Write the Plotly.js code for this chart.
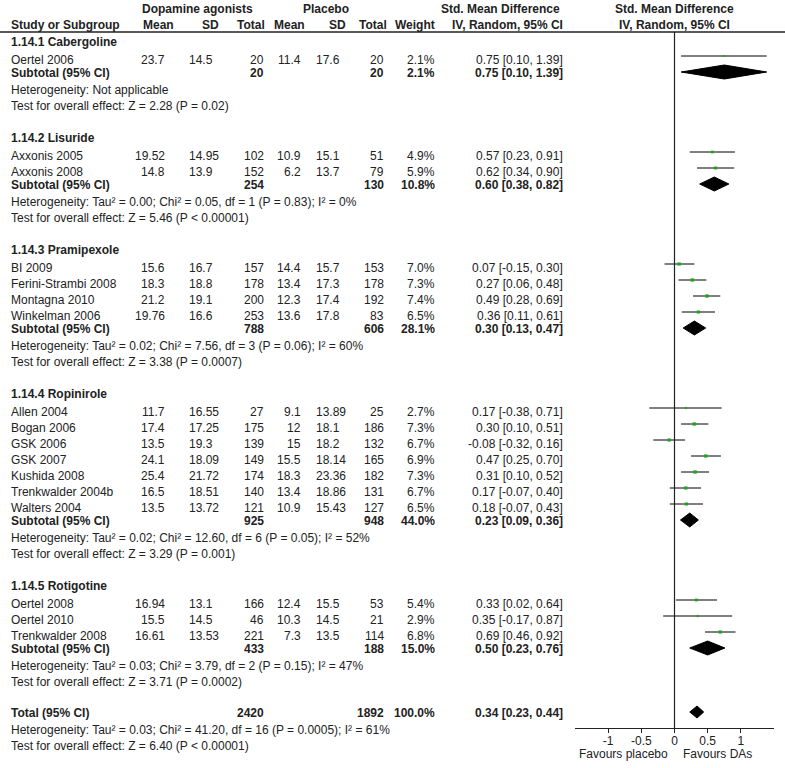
<!DOCTYPE html>
<html>
<head>
<meta charset="utf-8">
<script src="https://cdn.plot.ly/plotly-3.0.1.min.js"></script>
<style>html,body{margin:0;padding:0;background:#fff;}#chart{width:785px;height:768px;}</style>
</head>
<body>
<div id="chart"></div>
<script>
// ---------------- DATA ----------------
const GROUP_NAMES = ["1.14.1 Cabergoline", "1.14.2 Lisuride", "1.14.3 Pramipexole", "1.14.4 Ropinirole", "1.14.5 Rotigotine"];

const STUDY_NAMES = ["Oertel 2006",
  "Axxonis 2005", "Axxonis 2008",
  "BI 2009", "Ferini-Strambi 2008", "Montagna 2010", "Winkelman 2006",
  "Allen 2004", "Bogan 2006", "GSK 2006", "GSK 2007", "Kushida 2008", "Trenkwalder 2004b", "Walters 2004",
  "Oertel 2008", "Oertel 2010", "Trenkwalder 2008"];
const STUDY_GROUP = [0, 1, 1, 2, 2, 2, 2, 3, 3, 3, 3, 3, 3, 3, 4, 4, 4];

const DA_MEAN = [23.7, 19.52, 14.8, 15.6, 18.3, 21.2, 19.76, 11.7, 17.4, 13.5, 24.1, 25.4, 16.5, 13.5, 16.94, 15.5, 16.61];
const DA_SD   = [14.5, 14.95, 13.9, 16.7, 18.8, 19.1, 16.6, 16.55, 17.25, 19.3, 18.09, 21.72, 18.51, 13.72, 13.1, 14.5, 13.53];
const DA_N    = [20, 102, 152, 157, 178, 200, 253, 27, 175, 139, 149, 174, 140, 121, 166, 46, 221];
const PL_MEAN = [11.4, 10.9, 6.2, 14.4, 13.4, 12.3, 13.6, 9.1, 12, 15, 15.5, 18.3, 13.4, 10.9, 12.4, 10.3, 7.3];
const PL_SD   = [17.6, 15.1, 13.7, 15.7, 17.3, 17.4, 17.8, 13.89, 18.1, 18.2, 18.14, 23.36, 18.86, 15.43, 15.5, 14.5, 13.5];
const PL_N    = [20, 51, 79, 153, 178, 192, 83, 25, 186, 132, 165, 182, 131, 127, 53, 21, 114];
const WEIGHT  = [2.1, 4.9, 5.9, 7.0, 7.3, 7.4, 6.5, 2.7, 7.3, 6.7, 6.9, 7.3, 6.7, 6.5, 5.4, 2.9, 6.8];
const SMD     = [0.75, 0.57, 0.62, 0.07, 0.27, 0.49, 0.36, 0.17, 0.30, -0.08, 0.47, 0.31, 0.17, 0.18, 0.33, 0.35, 0.69];
const CI_LO   = [0.10, 0.23, 0.34, -0.15, 0.06, 0.28, 0.11, -0.38, 0.10, -0.32, 0.25, 0.10, -0.07, -0.07, 0.02, -0.17, 0.46];
const CI_HI   = [1.39, 0.91, 0.90, 0.30, 0.48, 0.69, 0.61, 0.71, 0.51, 0.16, 0.70, 0.52, 0.40, 0.43, 0.64, 0.87, 0.92];

const SUB_DA_N   = [20, 254, 788, 925, 433];
const SUB_PL_N   = [20, 130, 606, 948, 188];
const SUB_WEIGHT = [2.1, 10.8, 28.1, 44.0, 15.0];
const SUB_SMD    = [0.75, 0.60, 0.30, 0.23, 0.50];
const SUB_LO     = [0.10, 0.38, 0.13, 0.09, 0.23];
const SUB_HI     = [1.39, 0.82, 0.47, 0.36, 0.76];
const SUB_HET = [
  "Heterogeneity: Not applicable",
  "Heterogeneity: Tau\u00b2 = 0.00; Chi\u00b2 = 0.05, df = 1 (P = 0.83); I\u00b2 = 0%",
  "Heterogeneity: Tau\u00b2 = 0.02; Chi\u00b2 = 7.56, df = 3 (P = 0.06); I\u00b2 = 60%",
  "Heterogeneity: Tau\u00b2 = 0.02; Chi\u00b2 = 12.60, df = 6 (P = 0.05); I\u00b2 = 52%",
  "Heterogeneity: Tau\u00b2 = 0.03; Chi\u00b2 = 3.79, df = 2 (P = 0.15); I\u00b2 = 47%"];
const SUB_TEST = [
  "Test for overall effect: Z = 2.28 (P = 0.02)",
  "Test for overall effect: Z = 5.46 (P < 0.00001)",
  "Test for overall effect: Z = 3.38 (P = 0.0007)",
  "Test for overall effect: Z = 3.29 (P = 0.001)",
  "Test for overall effect: Z = 3.71 (P = 0.0002)"];

const TOTAL_DA_N = 2420, TOTAL_PL_N = 1892, TOTAL_WEIGHT = 100.0;
const TOTAL_SMD = 0.34, TOTAL_LO = 0.23, TOTAL_HI = 0.44;
const TOTAL_HET = "Heterogeneity: Tau\u00b2 = 0.03; Chi\u00b2 = 41.20, df = 16 (P = 0.0005); I\u00b2 = 61%";
const TOTAL_TEST = "Test for overall effect: Z = 6.40 (P < 0.00001)";

const TICK_VALS = [-1, -0.5, 0, 0.5, 1];
const TICK_TEXT = ["-1", "-0.5", "0", "0.5", "1"];
const FAVOURS_LEFT = "Favours placebo", FAVOURS_RIGHT = "Favours DAs";

// ---------------- LAYOUT HELPERS ----------------
const W = 785, H = 768;
const FONT = "Liberation Sans, Arial, Helvetica, sans-serif";
const TXT = "#222222";
const BOLD_SIZE = 12, NORMAL_SIZE = 12;
const px = v => v / W;
const ROW0 = 8, ROWH = 16;           // pixel y of row 0, row height
const rowOfPx = p => (p - ROW0) / ROWH;

const annotations = [];
function ann(text, xPx, row, anchor, bold, yshift) {
  annotations.push({
    text: text, x: px(xPx), xref: "paper", y: row, yref: "y",
    xanchor: anchor, yanchor: "middle", showarrow: false, borderpad: 0,
    yshift: yshift === undefined ? -2 : yshift,
    font: {family: FONT, size: bold ? BOLD_SIZE : NORMAL_SIZE, color: TXT}
  });
}
const fmt2 = v => v.toFixed(2);
const ciText = (e, l, h) => fmt2(e) + " [" + fmt2(l) + ", " + fmt2(h) + "]";
const decs = v => (String(v).split(".")[1] || "").length;

// columns (pixel x)
const C = {name: 10, daMean: 166, daSD: 220, daN: 265, plMean: 302, plSD: 347, plN: 385, weight: 436, ci: 564};

// headers
ann("<b>Dopamine agonists</b>", 197, 0, "center", true, -1);
ann("<b>Placebo</b>", 326, 0, "center", true, -1);
ann("<b>Std. Mean Difference</b>", 500, 0, "center", true, -1);
ann("<b>Study or Subgroup</b>", C.name, 1, "left", true, -1);
ann("<b>Mean</b>", 175, 1, "right", true, -1);
ann("<b>SD</b>", 220, 1, "right", true, -1);
ann("<b>Total</b>", 266, 1, "right", true, -1);
ann("<b>Mean</b>", 306, 1, "right", true, -1);
ann("<b>SD</b>", 347, 1, "right", true, -1);
ann("<b>Total</b>", 388, 1, "right", true, -1);
ann("<b>Weight</b>", 436, 1, "right", true, -1);
ann("<b>IV, Random, 95% CI</b>", 564, 1, "right", true, -1);
annotations.push({text: "<b>Std. Mean Difference</b>", x: 0, xref: "x", y: 0, yref: "y", xanchor: "center", yanchor: "middle",
  showarrow: false, borderpad: 0, yshift: -1, font: {family: FONT, size: BOLD_SIZE, color: TXT}});
annotations.push({text: "<b>IV, Random, 95% CI</b>", x: 0, xref: "x", y: 1, yref: "y", xanchor: "center", yanchor: "middle",
  showarrow: false, borderpad: 0, yshift: -1, font: {family: FONT, size: BOLD_SIZE, color: TXT}});

// rows
const studyRow = [];
const subRow = [];
let row = 2;
GROUP_NAMES.forEach((g, gi) => {
  ann("<b>" + g + "</b>", C.name, row, "left", true);
  row++;
  STUDY_NAMES.forEach((s, si) => {
    if (STUDY_GROUP[si] !== gi) return;
    studyRow[si] = row;
    const ys = -3.5;
    ann(s, C.name, row, "left", false, ys);
    ann(String(DA_MEAN[si]), C.daMean, row, "right", false, ys);
    ann(String(DA_SD[si]), C.daSD - (2 - decs(DA_SD[si])) * 6.3, row, "right", false, ys);
    ann(String(DA_N[si]), C.daN, row, "right", false, ys);
    ann(String(PL_MEAN[si]), C.plMean, row, "right", false, ys);
    ann(String(PL_SD[si]), C.plSD - (2 - decs(PL_SD[si])) * 6.3, row, "right", false, ys);
    ann(String(PL_N[si]), C.plN, row, "right", false, ys);
    ann(WEIGHT[si].toFixed(1) + "%", C.weight, row, "right", false, ys);
    ann(ciText(SMD[si], CI_LO[si], CI_HI[si]), C.ci, row, "right", false, ys);
    row++;
  });
  subRow[gi] = row;
  ann("<b>Subtotal (95% CI)</b>", C.name, row, "left", true, -1);
  ann("<b>" + SUB_DA_N[gi] + "</b>", C.daN, row, "right", true, -1);
  ann("<b>" + SUB_PL_N[gi] + "</b>", C.plN, row, "right", true, -1);
  ann("<b>" + SUB_WEIGHT[gi].toFixed(1) + "%</b>", C.weight, row, "right", true, -1);
  ann("<b>" + ciText(SUB_SMD[gi], SUB_LO[gi], SUB_HI[gi]) + "</b>", C.ci, row, "right", true, -1);
  row++;
  ann(SUB_HET[gi], C.name, row, "left", false); row++;
  ann(SUB_TEST[gi], C.name, row, "left", false); row++;
  row++; // blank
});
const totalRow = row;
ann("<b>Total (95% CI)</b>", C.name, row, "left", true, -1);
ann("<b>" + TOTAL_DA_N + "</b>", C.daN, row, "right", true, -1);
ann("<b>" + TOTAL_PL_N + "</b>", C.plN, row, "right", true, -1);
ann("<b>" + TOTAL_WEIGHT.toFixed(1) + "%</b>", C.weight, row, "right", true, -1);
ann("<b>" + ciText(TOTAL_SMD, TOTAL_LO, TOTAL_HI) + "</b>", C.ci, row, "right", true, -1);
row++;
const axisRow = row;
ann(TOTAL_HET, C.name, row, "left", false); row++;
ann(TOTAL_TEST, C.name, row, "left", false); row++;

// favours labels under the axis
annotations.push({text: FAVOURS_LEFT, x: 0, xref: "x", xshift: -6, y: axisRow + 1.6, yref: "y", xanchor: "right", yanchor: "middle",
  showarrow: false, borderpad: 0, font: {family: FONT, size: 12, color: TXT}});
annotations.push({text: FAVOURS_RIGHT, x: 0, xref: "x", xshift: 7, y: axisRow + 1.6, yref: "y", xanchor: "left", yanchor: "middle",
  showarrow: false, borderpad: 0, font: {family: FONT, size: 12, color: TXT}});

// ---------------- TRACES ----------------
const traces = [];
// study CI lines + weighted squares
traces.push({
  type: "scatter", mode: "markers", xaxis: "x", yaxis: "y",
  x: SMD, y: studyRow,
  marker: {symbol: "square", color: "#00a800", size: WEIGHT.map(w => 1.4 + 0.3 * w), line: {width: 0}},
  error_x: {type: "data", symmetric: false,
    array: CI_HI.map((h, i) => h - SMD[i]), arrayminus: CI_LO.map((l, i) => SMD[i] - l),
    width: 0, thickness: 1, color: "#000"},
  hoverinfo: "skip", cliponaxis: false
});
// diamonds
function diamond(e, l, h, r, half) {
  traces.push({type: "scatter", mode: "lines", xaxis: "x", yaxis: "y",
    x: [l, e, h, e, l], y: [r, r - half, r, r + half, r],
    fill: "toself", fillcolor: "#000", line: {color: "#000", width: 1}, hoverinfo: "skip"});
}
GROUP_NAMES.forEach((g, gi) => diamond(SUB_SMD[gi], SUB_LO[gi], SUB_HI[gi], subRow[gi], 7 / ROWH));
diamond(TOTAL_SMD, TOTAL_LO, TOTAL_HI, totalRow, 6 / ROWH);

// ---------------- LAYOUT ----------------
const axisPx = ROW0 + ROWH * axisRow;
const layout = {
  width: W, height: H, margin: {l: 0, r: 0, t: 0, b: 0, pad: 0},
  paper_bgcolor: "#fff", plot_bgcolor: "#fff", showlegend: false,
  xaxis: {domain: [575 / W, 774 / W], range: [-1.5, 1.5], anchor: "free", position: 1 - axisPx / H,
    showline: true, linecolor: "#222", linewidth: 1, showgrid: false, zeroline: false,
    ticks: "outside", ticklen: 4, tickcolor: "#222", tickwidth: 1, ticklabelstandoff: -2,
    tickvals: TICK_VALS, ticktext: TICK_TEXT,
    tickfont: {family: FONT, size: 12, color: TXT}, fixedrange: true},
  yaxis: {domain: [0, 1], range: [rowOfPx(H), rowOfPx(0)], visible: false, fixedrange: true},
  shapes: [
    {type: "line", xref: "paper", yref: "y", x0: 0, x1: 1, y0: rowOfPx(32), y1: rowOfPx(32), line: {color: "#222", width: 1.3}},
    {type: "line", xref: "x", yref: "y", x0: 0, x1: 0, y0: rowOfPx(32), y1: axisRow, line: {color: "#222", width: 1.2}}
  ],
  annotations: annotations
};
Plotly.newPlot("chart", traces, layout, {staticPlot: true, displayModeBar: false});
</script>
</body>
</html>
